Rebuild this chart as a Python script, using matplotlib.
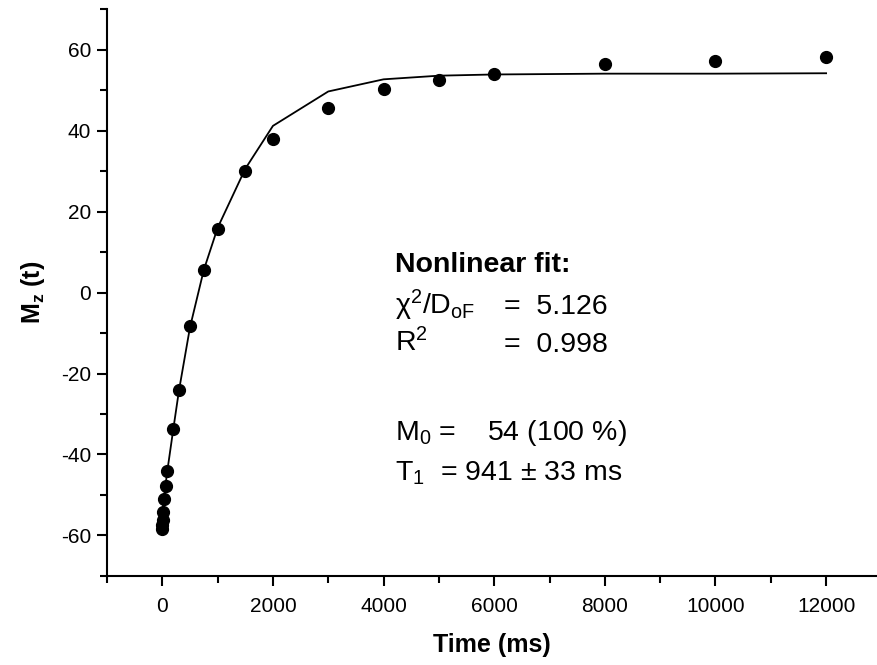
import matplotlib
matplotlib.use("Agg")
import matplotlib.pyplot as plt
from matplotlib.ticker import MultipleLocator

plt.rcParams['font.family'] = ['Liberation Sans', 'DejaVu Sans']
plt.rcParams['mathtext.default'] = 'regular'
plt.rcParams['axes.unicode_minus'] = False

# measured points (ms, a.u.)
time_ms = [0, 0, 5, 15, 35, 60, 85, 200, 300, 500, 750, 1000, 1500,
           2000, 3000, 4000, 5000, 6000, 8000, 10000, 12000]
mz = [-58.5, -57.4, -56.2, -54.1, -51.0, -47.8, -44.2, -33.6, -24.0, -8.2,
      5.7, 15.8, 30.0, 37.9, 45.5, 50.2, 52.6, 53.9, 56.4, 57.3, 58.2]

# fitted curve at the measurement times
fit_time = [0, 5, 15, 35, 60, 85, 200, 300, 500, 750, 1000, 1500,
            2000, 3000, 4000, 5000, 6000, 8000, 10000, 12000]
fit_mz = [-54.1, -53.5, -52.4, -50.1, -47.4, -44.6, -33.6, -24.3, -8.6,
          5.6, 16.0, 30.6, 41.2, 49.7, 52.7, 53.6, 53.9, 54.1, 54.1, 54.2]

fig = plt.figure(figsize=(8.77, 6.65), dpi=100)
ax = fig.add_axes([0.122, 0.134, 0.878, 0.852])

ax.plot(fit_time, fit_mz, color='black', lw=1.3, zorder=2)
ax.plot(time_ms, mz, 'o', color='black', ms=8.5, zorder=3)

ax.set_xlim(-1000, 12920)
ax.set_ylim(-70, 70)
ax.xaxis.set_major_locator(MultipleLocator(2000))
ax.xaxis.set_minor_locator(MultipleLocator(1000))
ax.yaxis.set_major_locator(MultipleLocator(20))
ax.yaxis.set_minor_locator(MultipleLocator(10))

for side in ['top', 'right']:
    ax.spines[side].set_visible(False)
for side in ['left', 'bottom']:
    ax.spines[side].set_linewidth(1.5)

ax.tick_params(which='major', direction='out', length=7.5, width=1.5, labelsize=15)
ax.tick_params(axis='x', which='major', pad=8)
ax.tick_params(axis='y', which='major', pad=4)
ax.tick_params(which='minor', direction='out', length=5, width=1.5)

ax.set_xlabel('Time (ms)', fontsize=18, fontweight='bold', labelpad=12)
ax.set_ylabel('$M_z$ (t)', fontsize=18, fontweight='bold', labelpad=10)

txt = dict(fontsize=20.5, color='black', va='baseline')
ax.text(4207, 5.2, 'Nonlinear fit:', fontweight='bold', **txt)
ax.text(4207, -5.4, '$χ^2/D_{oF}$', **txt)
ax.text(6180, -5.4, '=  5.126', **txt)
ax.text(4207, -14.6, '$R^2$', **txt)
ax.text(6180, -14.6, '=  0.998', **txt)
ax.text(4207, -36.4, '$M_0$ =    54 (100 %)', **txt)
ax.text(4207, -46.5, '$T_1$  = 941 ± 33 ms', **txt)

fig.savefig('out.png', dpi=100)
